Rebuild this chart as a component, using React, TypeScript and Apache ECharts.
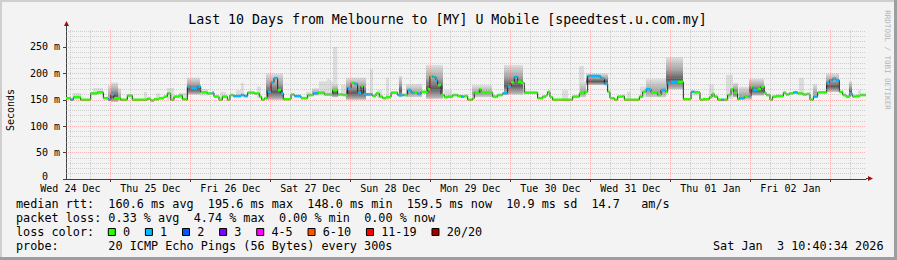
import React, { useEffect, useRef } from 'react';
import * as echarts from 'echarts';

const chartTitle = 'Last 10 Days from Melbourne to [MY] U Mobile [speedtest.u.com.my]';
const yAxisName = 'Seconds';
const watermark = 'RRDTOOL / TOBI OETIKER';
const spanHours = 240; // 10 days, start = Wed 24 Dec 10:40:34
const yMax = 284;
const firstNoon = 1.324; // Wed 24 Dec 12:00 in hours after start
const dayLabels = ['Wed 24 Dec', 'Thu 25 Dec', 'Fri 26 Dec', 'Sat 27 Dec', 'Sun 28 Dec', 'Mon 29 Dec', 'Tue 30 Dec', 'Wed 31 Dec', 'Thu 01 Jan', 'Fri 02 Jan'];
const yLabelValues = [0, 50, 100, 150, 200, 250];

// median rtt steps: start hour, value (ms), loss colour index
const medianHours = [0, 1.4, 2.2, 4.4, 7.4, 9.4, 11.2, 12.6, 13.4, 14.4, 16.4, 18.4, 19.9, 24.4, 25.4, 26.4, 27.9, 29.4, 30.4, 31.4, 32.4, 33.9, 34.9, 35.9, 36.4, 37.4, 39.4, 40.4, 42.4, 43.9, 44.4, 45.9, 46.9, 48.4, 49.2, 50.2, 52.5, 53.5, 54.5, 56.5, 58.0, 58.7, 59.5, 60.5, 61.5, 62.4, 63.5, 64.5, 65.2, 67.5, 68.5, 70.5, 72.5, 74.2, 75.5, 77.5, 80.0, 81.5, 83.0, 84.5, 85.5, 86.5, 87.5, 88.5, 89.2, 90.0, 92.0, 93.0, 94.0, 95.0, 96.0, 97.5, 99.5, 101.5, 102.5, 103.5, 104.5, 105.5, 106.5, 108.5, 109.2, 110.0, 111.0, 111.5, 112.5, 113.5, 114.5, 116.0, 117.5, 118.5, 119.5, 120.5, 122.0, 122.5, 124.0, 124.5, 128.0, 129.5, 131.0, 132.5, 133.5, 134.5, 135.5, 136.5, 137.5, 141.5, 143.0, 144.0, 144.5, 145.2, 146.0, 152.0, 154.0, 155.5, 156.5, 160.0, 160.5, 161.5, 162.5, 163.2, 164.5, 165.5, 167.0, 167.5, 172.0, 173.0, 174.0, 175.5, 177.5, 178.5, 180.0, 180.5, 181.5, 183.5, 185.2, 187.5, 188.5, 190.2, 191.1, 193.0, 193.8, 194.5, 195.5, 196.5, 197.5, 198.5, 199.5, 200.2, 201.5, 202.0, 203.5, 204.8, 205.5, 206.0, 207.5, 208.5, 209.5, 210.0, 211.2, 212.0, 213.0, 215.2, 216.0, 217.0, 218.2, 219.5, 221.0, 222.2, 223.2, 224.2, 225.5, 228.2, 229.0, 230.0, 231.0, 232.0, 233.0, 234.0, 235.2, 236.0, 236.8, 238.2];
const medianMs = [153, 150, 155, 150, 162, 164, 153, 150, 160, 153, 150, 158, 150, 152, 148.5, 151, 153, 156, 162, 150, 156, 158, 151, 150, 175, 172, 175, 164, 162, 163, 156, 150, 156, 150, 159, 157, 159, 157, 163.5, 162, 156, 150, 153, 165, 183, 191, 168.5, 162, 151, 160, 157, 153, 159, 162, 163.5, 160, 168.5, 160, 159, 172, 182, 180, 163.5, 176, 161, 160, 157, 162, 156, 153, 155, 163.5, 159, 159, 168.5, 163.5, 163.5, 161, 165, 170, 195, 193, 187.5, 178, 159, 155, 156, 159, 157, 156, 157, 150, 153, 163.5, 170, 163.5, 156, 159, 162, 175, 183, 193, 184, 182, 163.5, 153, 156, 159, 165, 155, 150, 156, 162, 165, 195, 194, 190, 180, 165, 153, 150, 156, 157, 150, 156, 165, 170, 163.5, 159, 168.5, 165, 181, 184, 184, 151, 165, 164, 150, 151, 155, 161, 156, 150, 150, 150, 159, 170, 163.5, 151, 153, 156, 157, 173.5, 168.5, 170, 175, 163.5, 159, 150, 156, 157, 163.5, 160, 162, 164, 162, 160, 161, 150, 156, 164, 182, 187, 190, 187, 165, 159, 156, 161, 156, 157, 159];
const medianLoss = [0, 1, 0, 0, 0, 0, 0, 1, 1, 0, 0, 0, 0, 0, 0, 0, 0, 0, 0, 0, 0, 0, 0, 0, 1, 1, 1, 0, 0, 1, 0, 0, 0, 0, 0, 1, 1, 1, 0, 0, 0, 0, 0, 1, 1, 1, 0, 1, 0, 0, 1, 0, 0, 1, 0, 0, 0, 0, 0, 1, 0, 1, 1, 0, 1, 1, 0, 0, 0, 0, 0, 0, 1, 0, 1, 1, 0, 1, 0, 0, 0, 1, 1, 0, 0, 0, 0, 0, 0, 1, 0, 0, 0, 0, 0, 0, 0, 0, 1, 1, 0, 1, 0, 0, 0, 0, 0, 0, 0, 0, 0, 0, 0, 0, 1, 1, 1, 1, 0, 0, 0, 0, 0, 0, 0, 0, 1, 0, 0, 1, 0, 1, 1, 0, 0, 1, 0, 0, 0, 0, 0, 0, 0, 1, 0, 0, 0, 0, 0, 1, 0, 1, 0, 1, 0, 0, 0, 0, 0, 0, 0, 0, 0, 0, 1, 0, 0, 0, 0, 1, 0, 1, 1, 1, 1, 0, 0, 0, 1, 0, 0, 0];

// smoke (ping spread) blocks
const smokeStart = [2.1, 8.1, 12.6, 13.5, 15.6, 23.4, 27.0, 30.3, 33.9, 36.3, 40.2, 46.2, 51.0, 52.5, 57.3, 60.0, 72.0, 73.8, 75.9, 78.3, 80.1, 79.8, 82.5, 84.0, 91.2, 93.3, 96.0, 99.9, 102.0, 108.0, 113.4, 121.8, 131.4, 137.1, 148.8, 153.9, 154.2, 156.0, 168.3, 172.2, 174.0, 180.0, 188.1, 192.9, 198.0, 200.1, 201.9, 204.9, 219.9, 224.1, 228.0, 234.9, 237.6];
const smokeEnd = [4.5, 11.1, 13.5, 15.6, 16.5, 24.3, 28.2, 32.4, 36.3, 40.2, 42.6, 48.0, 52.5, 53.3, 58.5, 65.1, 73.2, 75.9, 80.1, 79.2, 81.4, 81.6, 84.0, 90.0, 92.1, 94.8, 96.9, 100.8, 106.8, 113.1, 115.8, 127.8, 137.1, 138.0, 150.6, 155.4, 156.0, 162.6, 169.5, 174.0, 180.0, 185.1, 189.6, 194.4, 200.1, 201.6, 205.8, 209.4, 221.4, 225.3, 231.9, 235.8, 238.5];
const smokeLow = [150, 160, 148, 146, 148, 152, 152, 150, 152, 160, 158, 152, 155, 155, 153, 150, 155, 158, 158, 158, 155, 155, 158, 150, 160, 153, 150, 155, 155, 152, 153, 155, 160, 160, 150, 155, 155, 178, 150, 155, 155, 170, 158, 152, 152, 155, 150, 158, 160, 155, 165, 158, 155];
const smokeHigh = [163, 172, 178, 183, 172, 165, 162, 172, 163, 192, 170, 165, 168, 182, 175, 200, 165, 172, 185, 189, 250, 180, 178, 192, 208, 168, 192, 195, 180, 216, 168, 178, 216, 172, 168, 214, 185, 200, 165, 175, 190, 231, 168, 179, 197, 182, 175, 190, 191, 180, 200, 185, 168];
const smokeShade = [0, 0, 1, 2, 1, 0, 0, 0, 0, 2, 0, 0, 0, 0, 0, 2, 0, 1, 0, 0, 0, 2, 0, 2, 0, 0, 0, 2, 1, 2, 0, 1, 2, 0, 0, 0, 1, 2, 0, 0, 1, 2, 0, 0, 0, 2, 1, 2, 0, 1, 2, 2, 0];

const lossColors = ['#26ff00', '#00b8ff', '#0059ff', '#7e00ff', '#ff00ff', '#ff5500', '#ff0000', '#a00000'];
const lossLabels = ['0', '1', '2', '3', '4-5', '6-10', '11-19', '20/20'];

const legendLine1 = 'median rtt:  160.6 ms avg  195.6 ms max  148.0 ms min  159.5 ms now  10.9 ms sd  14.7   am/s';
const legendLine2 = 'packet loss: 0.33 % avg  4.74 % max  0.00 % min  0.00 % now';
const legendLine3 = 'loss color:';
const legendLine4 = 'probe:       20 ICMP Echo Pings (56 Bytes) every 300s';
const stampText = 'Sat Jan  3 10:40:34 2026';

const MONO = '"DejaVu Sans Mono", monospace';
const LEG_FONT = `11.8px ${MONO}`;
const CW = 7.105;

function textRuns(line: string, x0: number, y: number): any[] {
  const out: any[] = [];
  const re = /\S+(?: \S+)*/g;
  let m: RegExpExecArray | null;
  while ((m = re.exec(line))) {
    out.push({ type: 'text', x: x0 + m.index * CW, y, silent: true, style: { text: m[0], font: LEG_FONT, fill: '#000', verticalAlign: 'middle' } });
  }
  return out;
}

function smokeFill(shade: number): any {
  if (shade === 0) return '#dcdcdc';
  if (shade === 1) {
    return new echarts.graphic.LinearGradient(0, 1, 0, 0, [
      { offset: 0, color: '#cfcfcf' },
      { offset: 0.3, color: '#a4a4a4' },
      { offset: 1, color: '#e2e2e2' },
    ]);
  }
  return new echarts.graphic.LinearGradient(0, 1, 0, 0, [
    { offset: 0, color: '#c2c2c2' },
    { offset: 0.3, color: '#5c5c5c' },
    { offset: 0.6, color: '#a6a6a6' },
    { offset: 1, color: '#e0e0e0' },
  ]);
}

export default function App() {
  const ref = useRef<HTMLDivElement>(null);
  useEffect(() => {
    if (!ref.current) return;
    const chart = echarts.init(ref.current, undefined, { renderer: 'svg' });

    const n = medianHours.length;
    const lineData = medianHours.map((h, i) => [h, medianMs[i]]);
    lineData.push([spanHours, medianMs[n - 1]]);
    const bandData = medianHours.map((h, i) => [h, i + 1 < n ? medianHours[i + 1] : spanHours, medianMs[i], medianLoss[i]]);
    const smokeData = smokeStart.map((s, i) => [s, smokeEnd[i], smokeLow[i], smokeHigh[i], smokeShade[i]]);

    const minor = { color: 'rgba(160,160,160,0.45)', type: [1, 1], width: 1 };
    const major = { color: 'rgba(255,90,90,0.42)', type: [1, 1], width: 1 };
    const gridMinor: any[] = [];
    const gridMajor: any[] = [];
    for (let v = 10; v < yMax; v += 10) {
      (v % 50 === 0 ? gridMajor : gridMinor).push({ yAxis: v, lineStyle: v % 50 === 0 ? major : minor });
    }
    const midnights: number[] = [];
    for (let k = 0; firstNoon + 6 * k < spanHours; k++) {
      const h = firstNoon + 6 * k;
      if (k % 4 === 2) {
        midnights.push(h);
        gridMajor.push({ xAxis: h, lineStyle: major });
      } else {
        gridMinor.push({ xAxis: h, lineStyle: minor });
      }
    }
    const noonValues = dayLabels.map((_, i) => firstNoon + 24 * i);

    const graphics: any[] = [
      { type: 'rect', silent: true, shape: { x: 0, y: 0, width: 897, height: 2 }, style: { fill: '#cfcfcf' } },
      { type: 'rect', silent: true, shape: { x: 0, y: 0, width: 2, height: 260 }, style: { fill: '#cfcfcf' } },
      { type: 'rect', silent: true, shape: { x: 0, y: 257, width: 897, height: 3 }, style: { fill: '#9e9e9e' } },
      { type: 'rect', silent: true, shape: { x: 894, y: 0, width: 3, height: 260 }, style: { fill: '#9e9e9e' } },
      { type: 'text', x: 447.5, y: 19.5, silent: true, style: { text: chartTitle, font: `13.25px ${MONO}`, fill: '#000', align: 'center', verticalAlign: 'middle' } },
      { type: 'text', x: 10, y: 110, rotation: Math.PI / 2, silent: true, style: { text: yAxisName, font: `10px ${MONO}`, fill: '#000', align: 'center', verticalAlign: 'middle' } },
      { type: 'text', x: 887, y: 60, rotation: -Math.PI / 2, silent: true, style: { text: watermark, font: `7.5px ${MONO}`, fill: '#b4b4b4', align: 'center', verticalAlign: 'middle' } },
      { type: 'line', silent: true, shape: { x1: 66.5, y1: 29, x2: 66.5, y2: 25 }, style: { stroke: '#404040', lineWidth: 1 } },
      { type: 'polygon', silent: true, shape: { points: [[64, 26], [69, 26], [66.5, 21]] }, style: { fill: '#9a1010' } },
      { type: 'line', silent: true, shape: { x1: 866, y1: 178.5, x2: 868, y2: 178.5 }, style: { stroke: '#404040', lineWidth: 1 } },
      { type: 'polygon', silent: true, shape: { points: [[868, 176], [868, 181], [873, 178.5]] }, style: { fill: '#9a1010' } },
      ...textRuns(legendLine1, 16, 204),
      ...textRuns(legendLine2, 16, 218.3),
      ...textRuns(legendLine3, 16, 232),
      ...textRuns(legendLine4, 16, 246),
      ...textRuns(stampText, 713, 246),
    ];
    let bx = 108.3;
    lossLabels.forEach((lab, i) => {
      graphics.push({ type: 'rect', silent: true, shape: { x: bx, y: 228.5, width: 7, height: 7 }, style: { fill: lossColors[i], stroke: '#000', lineWidth: 1 } });
      graphics.push({ type: 'text', silent: true, x: bx + 14.7, y: 232, style: { text: lab, font: LEG_FONT, fill: '#000', verticalAlign: 'middle' } });
      bx = bx + 14.7 + lab.length * CW + 15.3;
    });

    const option: any = {
      animation: false,
      backgroundColor: '#f3f3f3',
      grid: { left: 66, top: 29, width: 800, height: 150, containLabel: false, outerBoundsMode: 'none' },
      xAxis: {
        type: 'value', min: 0, max: spanHours,
        axisLine: { show: true, lineStyle: { color: '#404040', width: 1 } },
        axisTick: { show: true, customValues: midnights, length: 3, lineStyle: { color: '#404040' } },
        axisLabel: {
          show: true, customValues: noonValues, margin: 4, lineHeight: 10,
          fontFamily: MONO, fontSize: 10, color: '#000',
          formatter: (v: number) => dayLabels[Math.round((v - firstNoon) / 24)] ?? '',
        },
        splitLine: { show: false },
      },
      yAxis: {
        type: 'value', min: 0, max: yMax, interval: 50,
        axisLine: { show: true, lineStyle: { color: '#404040', width: 1 } },
        axisTick: { show: true, customValues: yLabelValues, length: 3, lineStyle: { color: '#404040' } },
        axisLabel: {
          show: true, customValues: yLabelValues, margin: 6, lineHeight: 8,
          fontFamily: MONO, fontSize: 10, color: '#000',
          formatter: (v: number) => (v % 50 !== 0 || v > 250 ? '' : v === 0 ? '{z|0\u00a0\u00a0}' : `${v} m`),
          rich: { z: { fontFamily: MONO, fontSize: 10, color: '#000', lineHeight: 8, padding: [0, 0, 6, 0] } },
        },
        splitLine: { show: false },
      },
      graphic: { elements: graphics },
      series: [
        {
          type: 'line', data: [], silent: true, z: 1,
          markLine: { silent: true, symbol: ['none', 'none'], label: { show: false }, emphasis: { disabled: true }, data: [...gridMinor, ...gridMajor] },
        },
        {
          type: 'custom', z: 2, silent: true, clip: true,
          encode: { x: [0, 1], y: [2, 3] },
          data: smokeData,
          renderItem: (_p: any, api: any) => {
            const a = api.coord([api.value(0), api.value(3)]);
            const b = api.coord([api.value(1), api.value(2)]);
            return { type: 'rect', shape: { x: a[0], y: a[1], width: b[0] - a[0], height: b[1] - a[1] }, style: { fill: smokeFill(api.value(4)) } };
          },
        },
        {
          type: 'line', z: 3, silent: true, step: 'end', showSymbol: false, symbol: 'none',
          data: lineData,
          lineStyle: { color: '#202020', width: 1 },
        },
        {
          type: 'custom', z: 4, silent: true, clip: true,
          encode: { x: [0, 1], y: 2 },
          data: bandData,
          renderItem: (_p: any, api: any) => {
            const a = api.coord([api.value(0), api.value(2)]);
            const b = api.coord([api.value(1), api.value(2)]);
            return { type: 'rect', shape: { x: a[0], y: a[1] - 1.3, width: b[0] - a[0], height: 2.6 }, style: { fill: lossColors[api.value(3)] } };
          },
        },
      ],
    };
    chart.setOption(option);
    return () => chart.dispose();
  }, []);
  return <div ref={ref} style={{ position: 'absolute', left: 0, top: 0, width: 897, height: 260 }} />;
}
